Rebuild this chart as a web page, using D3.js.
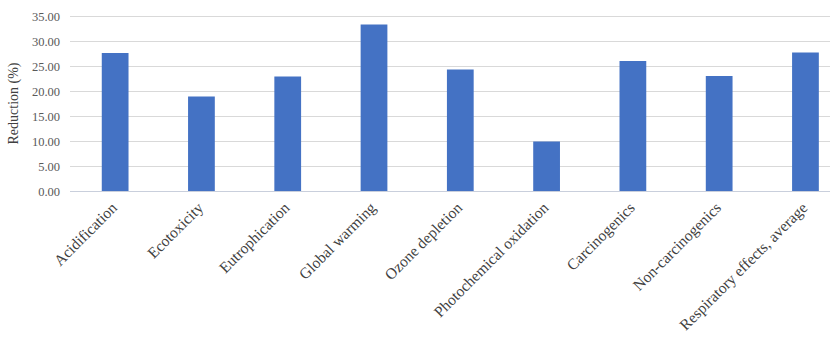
<!DOCTYPE html>
<html>
<head>
<meta charset="utf-8">
<script src="https://cdn.jsdelivr.net/npm/d3@7"></script>
<style>
  html, body { margin: 0; padding: 0; background: #ffffff; }
  svg { display: block; }
</style>
</head>
<body>
<svg id="chart" width="830" height="338"></svg>
<script>
// Impact categories and their percentage reductions
const categories = [
  "Acidification", "Ecotoxicity", "Eutrophication", "Global warming",
  "Ozone depletion", "Photochemical oxidation", "Carcinogenics",
  "Non-carcinogenics", "Respiratory effects, average"
];
const reductions = [27.6, 18.9, 22.9, 33.3, 24.3, 9.9, 26.0, 23.0, 27.7];
const yTicks = [0, 5, 10, 15, 20, 25, 30, 35];
const yTitle = "Reduction (%)";

const svg = d3.select("#chart");
const margin = { top: 16, left: 72, bottom: 191 };
const plotRight = 848.6;

const x = d3.scaleBand()
  .domain(categories)
  .range([margin.left, plotRight])
  .paddingInner(0.69)
  .paddingOuter(0.345);

const y = d3.scaleLinear()
  .domain([0, 35])
  .range([margin.bottom, margin.top]);

// Horizontal gridlines
svg.append("g")
  .selectAll("line")
  .data(yTicks)
  .join("line")
  .attr("x1", margin.left - 2)
  .attr("x2", plotRight)
  .attr("y1", d => Math.round(y(d)) + 0.5)
  .attr("y2", d => Math.round(y(d)) + 0.5)
  .attr("stroke", d => d === 0 ? "#c9cfdc" : "#d9d9d9")
  .attr("stroke-width", 1);

// Y axis tick labels
const yAxis = d3.axisLeft(y)
  .tickValues(yTicks)
  .tickFormat(d3.format(".2f"))
  .tickSize(0)
  .tickPadding(12);

svg.append("g")
  .attr("transform", `translate(${margin.left},0)`)
  .call(yAxis)
  .call(g => g.select(".domain").remove())
  .call(g => g.selectAll("text")
    .attr("font-family", "'Liberation Serif', serif")
    .attr("font-size", 12.5)
    .attr("fill", "#595959"));

// Bars
svg.append("g")
  .selectAll("rect")
  .data(categories)
  .join("rect")
  .attr("x", d => x(d))
  .attr("width", x.bandwidth())
  .attr("y", (d, i) => y(reductions[i]))
  .attr("height", (d, i) => y(0) - y(reductions[i]))
  .attr("fill", "#4472c4");

// X axis category labels, rotated
const xAxis = d3.axisBottom(x).tickSize(0).tickPadding(0);
svg.append("g")
  .attr("transform", `translate(0,${margin.bottom})`)
  .call(xAxis)
  .call(g => g.select(".domain").remove())
  .call(g => g.selectAll("text")
    .attr("font-family", "'Liberation Serif', serif")
    .attr("font-size", 15.5)
    .attr("fill", "#404040")
    .attr("text-anchor", "end")
    .attr("dy", "0.35em")
    .attr("transform", "translate(-1,14) rotate(-45)"));

// Y axis title
svg.append("text")
  .attr("transform", `translate(18,${(margin.top + margin.bottom) / 2}) rotate(-90)`)
  .attr("text-anchor", "middle")
  .attr("font-family", "'Liberation Serif', serif")
  .attr("font-size", 14)
  .attr("fill", "#404040")
  .text(yTitle);
</script>
</body>
</html>
